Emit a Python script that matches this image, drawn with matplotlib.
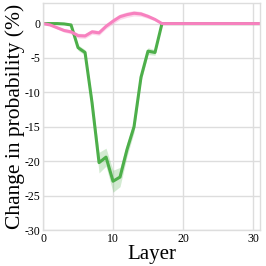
import numpy as np
import matplotlib
matplotlib.use("Agg")
import matplotlib.pyplot as plt

layers = list(range(32))
green = [0, 0, 0, -0.05, -0.2, -3.5, -4.2, -11.5, -20.2, -19.4, -22.9, -22.3,
         -18.3, -15.0, -7.8, -4.0, -4.2, 0, 0, 0, 0, 0, 0, 0, 0, 0, 0, 0, 0, 0, 0, 0]
green_err = [0, 0, 0, 0.05, 0.1, 0.4, 0.4, 0.8, 1.5, 1.3, 1.6, 1.4,
             1.0, 0.8, 0.6, 0.5, 0.4, 0, 0, 0, 0, 0, 0, 0, 0, 0, 0, 0, 0, 0, 0, 0]
pink = [0, -0.2, -0.6, -1.0, -1.2, -1.75, -1.8, -1.2, -1.35, -0.4, 0.35, 1.0,
        1.3, 1.5, 1.4, 1.05, 0.6, 0, 0, 0, 0, 0, 0, 0, 0, 0, 0, 0, 0, 0, 0, 0]
pink_err = [0.05, 0.1, 0.2, 0.25, 0.3, 0.35, 0.35, 0.35, 0.35, 0.35, 0.4, 0.4,
            0.4, 0.4, 0.35, 0.3, 0.2, 0, 0, 0, 0, 0, 0, 0, 0, 0, 0, 0, 0, 0, 0, 0]

plt.rcParams['font.family'] = ['Liberation Serif', 'DejaVu Serif']
plt.rcParams['axes.unicode_minus'] = False

fig = plt.figure(figsize=(2.66, 2.66), dpi=100)
ax = fig.add_axes([0.162, 0.135, 0.815, 0.854])

x = np.array(layers)
g = np.array(green); ge = np.array(green_err)
p = np.array(pink); pe = np.array(pink_err)
gc = '#4daf4a'
pc = '#f781bf'
ax.fill_between(x, g - ge, g + ge, color=gc, alpha=0.25, lw=0)
ax.plot(x, g, color=gc, lw=2.2)
ax.fill_between(x, p - pe, p + pe, color=pc, alpha=0.3, lw=0)
ax.plot(x, p, color=pc, lw=2.2)

ax.set_xlim(0, 31)
ax.set_ylim(-30, 3)
ax.set_xticks([0, 10, 20, 30])
ax.set_yticks([0, -5, -10, -15, -20, -25, -30])
ax.grid(True, color='#dddddd', lw=1)
ax.set_axisbelow(True)
for s in ax.spines.values():
    s.set_color('#dddddd')
    s.set_linewidth(1)
ax.tick_params(length=0, labelsize=8.5, pad=2)
ax.set_xlabel('Layer', fontsize=15, labelpad=0)
ax.set_ylabel('Change in probability (%)', fontsize=15.5, labelpad=0)

fig.savefig('out.png', dpi=100)
